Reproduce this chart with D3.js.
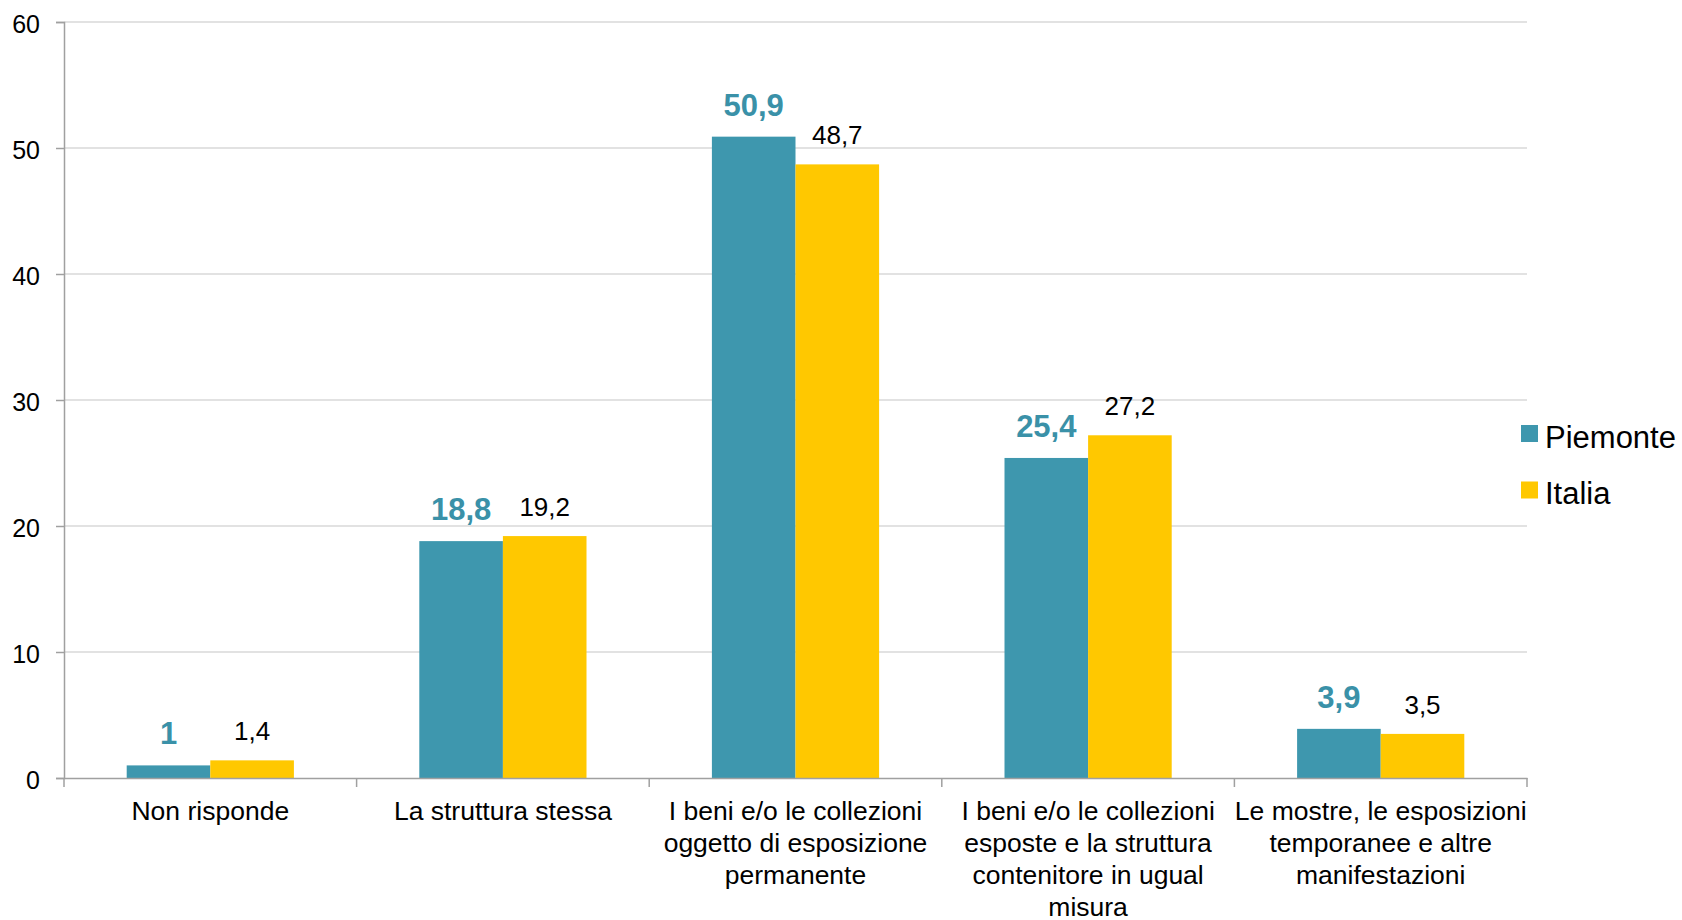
<!DOCTYPE html>
<html>
<head>
<meta charset="utf-8">
<script src="https://cdn.jsdelivr.net/npm/d3@7"></script>
<style>
  html, body { margin: 0; padding: 0; background: #fff; }
  svg { display: block; font-family: "Liberation Sans", Arial, sans-serif; }
</style>
</head>
<body>
<svg id="chart" width="1682" height="920"></svg>
<script>
const categories = [
  "Non risponde",
  "La struttura stessa",
  "I beni e/o le collezioni\noggetto di esposizione\npermanente",
  "I beni e/o le collezioni\nesposte e la struttura\ncontenitore in ugual\nmisura",
  "Le mostre, le esposizioni\ntemporanee e altre\nmanifestazioni"
];
const seriesNames = ["Piemonte", "Italia"];
const piemonte = [1, 18.8, 50.9, 25.4, 3.9];
const italia = [1.4, 19.2, 48.7, 27.2, 3.5];
const yTicks = [0, 10, 20, 30, 40, 50, 60];

const colors = { Piemonte: "#3E97AE", Italia: "#FFC800" };
const labelColor = { Piemonte: "#3A91A8", Italia: "#000000" };

const svg = d3.select("#chart");
const plotLeft = 64, plotRight = 1527, plotTop = 22, plotBottom = 778;

const x0 = d3.scaleBand().domain(categories).range([plotLeft, plotRight]).paddingInner(0).paddingOuter(0);
const bw = x0.bandwidth();
const x1 = d3.scaleBand().domain(seriesNames).range([bw * 1.5 / 7, bw * 5.5 / 7]).padding(0);
const y = d3.scaleLinear().domain([0, 60]).range([plotBottom, plotTop]);

// gridlines
svg.append("g").selectAll("line").data(yTicks.filter(d => d > 0)).join("line")
  .attr("x1", plotLeft).attr("x2", plotRight)
  .attr("y1", d => y(d)).attr("y2", d => y(d))
  .attr("stroke", "#D9D9D9").attr("stroke-width", 1.5);

// bars
const data = categories.map((c, i) => ({ cat: c, vals: [
  { s: "Piemonte", v: piemonte[i] },
  { s: "Italia", v: italia[i] }
]}));

const groups = svg.append("g").selectAll("g").data(data).join("g")
  .attr("transform", d => `translate(${x0(d.cat)},0)`);

groups.selectAll("rect").data(d => d.vals).join("rect")
  .attr("x", d => x1(d.s))
  .attr("width", x1.bandwidth())
  .attr("y", d => y(d.v))
  .attr("height", d => y(0) - y(d.v))
  .attr("fill", d => colors[d.s]);

groups.selectAll("text").data(d => d.vals).join("text")
  .attr("x", d => x1(d.s) + x1.bandwidth() / 2)
  .attr("y", d => y(d.v) - (d.s === "Piemonte" ? 21 : 20))
  .attr("text-anchor", "middle")
  .attr("font-size", d => d.s === "Piemonte" ? "31px" : "26px")
  .attr("font-weight", d => d.s === "Piemonte" ? "bold" : "normal")
  .attr("fill", d => labelColor[d.s])
  .text(d => String(d.v).replace(".", ","));

// y axis
const yAxis = svg.append("g").attr("transform", `translate(${plotLeft},0)`)
  .call(d3.axisLeft(y).tickValues(yTicks).tickSize(8).tickPadding(16).tickFormat(d3.format("d")));
yAxis.select(".domain").attr("stroke", "#A0A0A0").attr("stroke-width", 1.5);
yAxis.selectAll(".tick line").attr("stroke", "#A0A0A0").attr("stroke-width", 1.5);
yAxis.selectAll(".tick text").attr("font-size", "25px").attr("fill", "#000")
  .attr("font-family", "Liberation Sans, Arial, sans-serif").attr("dy", "0.4em");

// x axis
const xAxis = svg.append("g").attr("transform", `translate(0,${plotBottom})`)
  .call(d3.axisBottom(x0).tickSize(0).tickFormat(""));
xAxis.select(".domain").attr("stroke", "#A0A0A0").attr("stroke-width", 1.5);
xAxis.selectAll(".tick").remove();

// category boundary ticks
const boundaries = categories.map(c => x0(c)).concat([x0(categories[categories.length - 1]) + bw]);
svg.append("g").selectAll("line").data(boundaries).join("line")
  .attr("x1", d => d).attr("x2", d => d)
  .attr("y1", plotBottom).attr("y2", plotBottom + 9)
  .attr("stroke", "#A0A0A0").attr("stroke-width", 1.5);

// category labels
const catLabels = svg.append("g").selectAll("text").data(categories).join("text")
  .attr("text-anchor", "middle")
  .attr("font-size", "26.5px")
  .attr("fill", "#000")
  .attr("transform", d => `translate(${x0(d) + bw / 2},${plotBottom + 42})`);
catLabels.selectAll("tspan").data(d => d.split("\n")).join("tspan")
  .attr("x", 0)
  .attr("y", (d, i) => i * 32)
  .text(d => d);

// legend
const legend = svg.append("g").attr("transform", "translate(1521,425)");
const li = legend.selectAll("g").data(seriesNames).join("g")
  .attr("transform", (d, i) => `translate(0,${i * 56.5})`);
li.append("rect").attr("width", 17).attr("height", 17).attr("fill", d => colors[d]);
li.append("text").attr("x", 24).attr("y", 22.5)
  .attr("font-size", "31px").attr("fill", "#000").text(d => d);
</script>
</body>
</html>
